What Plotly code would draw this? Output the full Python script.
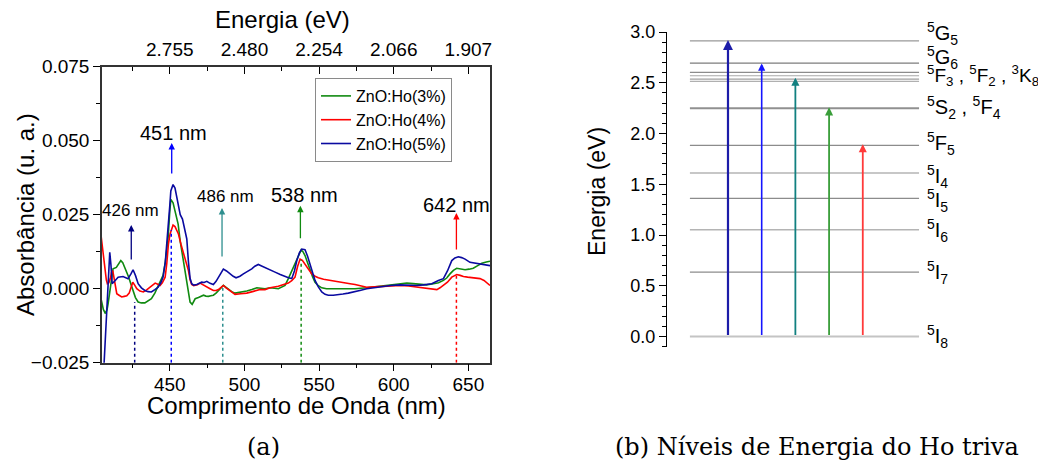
import plotly.graph_objects as go

# ---------------- data: panel (a) ----------------
wl_3 = [404.0, 405.5, 406.9, 408.0, 408.7, 409.8, 410.5, 412.0, 414.2, 415.8, 417.2, 418.5, 419.9, 421.2, 422.5, 424.0,
        425.4, 427.0, 428.8, 431.0, 433.3, 435.5, 437.7, 440.0, 442.2, 444.0, 445.5, 447.0, 448.9, 450.0, 450.7, 452.2,
        453.5, 455.6, 457.0, 458.2, 459.1, 460.2, 461.4, 462.5, 463.6, 465.0, 467.0, 469.2, 470.8, 472.6, 474.2, 475.9,
        477.5, 479.2, 481.0, 482.6, 484.5, 485.9, 487.5, 489.3, 491.5, 493.7, 497.5, 501.6, 505.0, 508.3, 513.8, 517.2,
        522.7, 525.0, 527.2, 529.5, 531.7, 533.5, 535.1, 536.8, 538.0, 539.2, 540.6, 542.3, 544.0, 545.7, 547.3, 549.5,
        551.8, 555.0, 558.5, 567.4, 574.1, 581.9, 587.0, 593.1, 600.0, 608.8, 613.0, 617.6, 622.0, 626.6, 630.0, 633.3,
        635.5, 637.7, 640.0, 642.2, 645.0, 647.8, 650.5, 653.3, 656.0, 659.0, 662.0, 664.5]
ab_3 = [-0.0035, -0.0070, -0.0084, -0.0070, -0.0050, -0.0010, 0.0028, 0.0067, 0.0072, 0.0085, 0.0095, 0.0088, 0.0072,
        0.0055, 0.0039, 0.0015, -0.0006, -0.0030, -0.0045, -0.0048, -0.0048, -0.0042, -0.0034, -0.0015, 0.0011, 0.0030,
        0.0045, 0.0090, 0.0173, 0.0260, 0.0302, 0.0290, 0.0260, 0.0218, 0.0160, 0.0120, 0.0095, 0.0060, 0.0028, -0.0010,
        -0.0045, -0.0053, -0.0034, -0.0030, -0.0026, -0.0022, -0.0025, -0.0026, -0.0024, -0.0022, -0.0015, -0.0006,
        0.0005, 0.0011, 0.0005, -0.0003, -0.0010, -0.0015, -0.0012, -0.0008, -0.0003, 0.0003, 0.0000, 0.0003, 0.0000,
        0.0005, 0.0011, 0.0035, 0.0061, 0.0082, 0.0100, 0.0122, 0.0131, 0.0125, 0.0112, 0.0088, 0.0061, 0.0040, 0.0022,
        0.0010, 0.0003, 0.0000, 0.0000, 0.0000, 0.0000, 0.0003, 0.0006, 0.0011, 0.0015, 0.0019, 0.0017, 0.0014, 0.0013,
        0.0017, 0.0020, 0.0028, 0.0036, 0.0050, 0.0062, 0.0069, 0.0067, 0.0064, 0.0066, 0.0069, 0.0077, 0.0086, 0.0090,
        0.0093]

wl_4 = [404.0, 405.2, 406.5, 407.5, 408.2, 409.2, 410.2, 411.0, 411.8, 412.6, 413.5, 414.5, 416.0, 417.8, 419.5, 421.2,
        422.8, 424.0, 425.2, 426.5, 427.9, 430.0, 432.3, 434.5, 436.8, 438.5, 440.2, 442.0, 443.5, 445.0, 446.9, 448.0,
        449.1, 450.2, 451.3, 452.2, 453.5, 455.8, 457.5, 459.1, 460.8, 462.5, 463.6, 464.7, 466.0, 467.0, 468.5, 470.3,
        472.5, 474.8, 477.0, 479.2, 481.0, 482.6, 484.5, 485.9, 487.5, 489.3, 491.5, 493.7, 497.5, 501.6, 506.0, 510.5,
        513.8, 517.2, 522.7, 526.0, 529.4, 531.7, 533.9, 535.6, 537.3, 538.8, 540.6, 542.8, 545.1, 547.3, 549.5, 553.0,
        558.5, 565.2, 570.8, 574.1, 578.0, 581.9, 587.0, 593.1, 598.0, 604.3, 610.0, 615.4, 620.0, 624.4, 628.9, 631.0,
        633.3, 636.0, 638.9, 642.2, 644.5, 646.7, 649.5, 652.3, 655.0, 657.8, 660.5, 664.5]
ab_4 = [0.0178, 0.0120, 0.0072, 0.0030, 0.0017, 0.0020, 0.0035, 0.0055, 0.0061, 0.0035, 0.0005, -0.0017, -0.0022,
        -0.0028, -0.0026, -0.0024, -0.0015, 0.0005, 0.0022, 0.0012, 0.0000, -0.0008, -0.0011, -0.0004, 0.0005, 0.0013,
        0.0019, 0.0015, 0.0011, 0.0020, 0.0039, 0.0085, 0.0151, 0.0185, 0.0207, 0.0215, 0.0210, 0.0185, 0.0150, 0.0123,
        0.0092, 0.0061, 0.0030, 0.0014, 0.0010, 0.0011, 0.0013, 0.0019, 0.0012, 0.0005, 0.0000, -0.0006, -0.0006,
        -0.0003, 0.0006, 0.0011, 0.0004, -0.0003, -0.0012, -0.0019, -0.0017, -0.0015, -0.0009, -0.0003, -0.0003, 0.0003,
        0.0008, 0.0013, 0.0019, 0.0027, 0.0039, 0.0075, 0.0100, 0.0096, 0.0084, 0.0066, 0.0050, 0.0042, 0.0037, 0.0032,
        0.0028, 0.0022, 0.0017, 0.0014, 0.0009, 0.0005, 0.0006, 0.0008, 0.0010, 0.0011, 0.0009, 0.0005, 0.0002, 0.0000,
        -0.0003, 0.0003, 0.0011, 0.0022, 0.0039, 0.0048, 0.0045, 0.0041, 0.0039, 0.0037, 0.0036, 0.0034, 0.0028, 0.0011]

wl_5 = [405.3, 406.5, 407.8, 409.0, 409.8, 410.6, 411.4, 413.0, 415.4, 418.7, 422.0, 424.0, 425.4, 427.0, 428.8, 431.0,
        433.3, 435.5, 437.7, 440.0, 442.2, 444.0, 445.5, 447.0, 448.9, 450.0, 450.7, 452.2, 453.5, 455.6, 457.0, 458.5,
        460.2, 461.4, 462.5, 463.6, 464.7, 466.0, 468.1, 470.0, 471.4, 473.0, 474.8, 477.0, 479.2, 481.0, 482.6, 484.5,
        485.9, 488.0, 490.4, 492.5, 494.4, 497.0, 499.3, 502.0, 504.9, 507.0, 509.3, 511.5, 513.8, 517.2, 520.5, 524.0,
        527.2, 529.5, 531.7, 533.5, 535.1, 536.8, 538.4, 540.6, 542.3, 544.0, 545.7, 547.3, 549.5, 551.8, 554.0, 556.2,
        559.5, 562.9, 566.0, 569.6, 574.1, 578.0, 581.9, 587.0, 593.1, 598.0, 604.3, 610.0, 615.4, 620.0, 625.5, 629.9,
        633.3, 636.0, 638.9, 641.0, 643.3, 645.5, 647.8, 651.1, 654.5, 657.8, 661.0, 664.5]
ab_5 = [-0.0320, -0.0200, -0.0084, 0.0060, 0.0123, 0.0080, 0.0017, 0.0025, 0.0039, 0.0041, 0.0034, 0.0050, 0.0064,
        0.0045, 0.0017, 0.0003, -0.0006, -0.0010, -0.0011, -0.0003, 0.0005, 0.0020, 0.0039, 0.0090, 0.0196, 0.0280,
        0.0330, 0.0352, 0.0340, 0.0285, 0.0250, 0.0235, 0.0195, 0.0168, 0.0090, 0.0035, 0.0017, 0.0012, 0.0014, 0.0020,
        0.0022, 0.0021, 0.0025, 0.0018, 0.0014, 0.0025, 0.0039, 0.0058, 0.0066, 0.0060, 0.0050, 0.0042, 0.0037, 0.0042,
        0.0050, 0.0058, 0.0067, 0.0076, 0.0082, 0.0077, 0.0071, 0.0064, 0.0056, 0.0048, 0.0041, 0.0037, 0.0034, 0.0060,
        0.0095, 0.0121, 0.0134, 0.0132, 0.0110, 0.0084, 0.0055, 0.0028, 0.0006, -0.0011, -0.0019, -0.0022, -0.0022,
        -0.0021, -0.0018, -0.0015, -0.0011, -0.0005, 0.0000, 0.0004, 0.0008, 0.0011, 0.0013, 0.0012, 0.0011, 0.0013,
        0.0017, 0.0028, 0.0034, 0.0060, 0.0095, 0.0104, 0.0108, 0.0105, 0.0100, 0.0089, 0.0086, 0.0084, 0.0081, 0.0078]

series_names = ["ZnO:Ho(3%)", "ZnO:Ho(4%)", "ZnO:Ho(5%)"]
series_colors = ["#108a10", "#ff0000", "#0a0aa0"]

# peak markers
peak_nm = [426.5, 451.0, 485.5, 538.0, 642.0]
peak_top = [-0.0045, 0.0198, 0.0002, 0.0097, 0.0046]
arrow_nm = [424.2, 451.3, 485.0, 537.5, 642.0]
arrow_base = [0.0094, 0.0384, 0.0104, 0.0165, 0.0127]
arrow_tip = [0.0215, 0.0492, 0.0273, 0.0280, 0.0256]
peak_labels = ["426 nm", "451 nm", "486 nm", "538 nm", "642 nm"]
peak_colors = ["#000080", "#0000ff", "#2e8f8f", "#108a10", "#ff0000"]
label_nm = [424.0, 452.5, 487.0, 540.5, 642.0]
label_y = [0.0265, 0.0525, 0.0313, 0.0316, 0.0282]
label_size = [17, 20, 17, 20, 20]

bottom_ticks = [450, 500, 550, 600, 650]
top_ticks = ["2.755", "2.480", "2.254", "2.066", "1.907"]

# ---------------- data: panel (b) ----------------
level_E = [0.0, 0.634, 1.053, 1.362, 1.611, 1.884, 2.245, 2.254, 2.514, 2.536, 2.569, 2.602, 2.694, 2.913]
level_col = ["#c4c4c4", "#8c8c8c", "#b4b4b4", "#8c8c8c", "#b4b4b4", "#8c8c8c", "#909090", "#909090",
             "#b0b0b0", "#a0a0a0", "#a8a8a8", "#8c8c8c", "#7c7c7c", "#999999"]
level_w = [2.0, 1.2, 1.5, 1.2, 1.5, 1.2, 1.2, 1.2, 1.2, 1.2, 1.2, 1.2, 1.2, 1.2]

level_labels = ["<sup>5</sup>G<sub>5</sub>", "<sup>5</sup>G<sub>6</sub>",
                "<sup>5</sup>F<sub>3</sub> , <sup>5</sup>F<sub>2</sub> , <sup>3</sup>K<sub>8</sub>",
                "<sup>5</sup>S<sub>2</sub> , <sup>5</sup>F<sub>4</sub>", "<sup>5</sup>F<sub>5</sub>",
                "<sup>5</sup>I<sub>4</sub>", "<sup>5</sup>I<sub>5</sub>", "<sup>5</sup>I<sub>6</sub>",
                "<sup>5</sup>I<sub>7</sub>", "<sup>5</sup>I<sub>8</sub>"]
level_label_y = [2.988, 2.753, 2.573, 2.261, 1.897, 1.572, 1.343, 1.048, 0.627, 0.002]
level_label_size = [20, 20, 19, 20, 20, 20, 20, 20, 20, 20]

trans_pos = [1, 2, 3, 4, 5]
trans_E = [2.92, 2.69, 2.55, 2.258, 1.895]
trans_col = ["#1c1ca8", "#1515ff", "#118080", "#3a9e3a", "#ff3a3a"]
trans_w = [2.2, 1.6, 1.8, 1.8, 1.8]

FONT = "Liberation Sans, Arial, sans-serif"
SERIF = "DejaVu Serif, serif"
W, H = 1038, 471

fig = go.Figure()

for wl, ab, nm, col in zip([wl_3, wl_4, wl_5], [ab_3, ab_4, ab_5], series_names, series_colors):
    fig.add_trace(go.Scatter(x=wl, y=ab, mode="lines", name=nm, line=dict(color=col, width=1.6),
                             xaxis="x", yaxis="y"))

fig.add_trace(go.Scatter(x=[bottom_ticks[0]], y=[0], mode="markers", marker=dict(opacity=0),
                         showlegend=False, hoverinfo="skip", xaxis="x2", yaxis="y"))
fig.add_trace(go.Scatter(x=trans_pos, y=[0] * len(trans_pos), mode="markers", marker=dict(opacity=0),
                         showlegend=False, hoverinfo="skip", xaxis="x3", yaxis="y3"))

shapes = []
annotations = []

for x, top, col in zip(peak_nm, peak_top, peak_colors):
    shapes.append(dict(type="line", xref="x", yref="y", x0=x, x1=x, y0=-0.025, y1=top,
                       line=dict(color=col, width=1.5, dash="dot")))
for x, b, t, col in zip(arrow_nm, arrow_base, arrow_tip, peak_colors):
    annotations.append(dict(xref="x", yref="y", axref="x", ayref="y", x=x, y=t, ax=x, ay=b, text="",
                            showarrow=True, arrowhead=2, arrowsize=1.0, arrowwidth=1.3, arrowcolor=col,
                            standoff=0, startstandoff=0))
for x, y, txt, s in zip(label_nm, label_y, peak_labels, label_size):
    annotations.append(dict(xref="x", yref="y", x=x, y=y, text=txt, showarrow=False,
                            font=dict(family=FONT, size=s, color="black")))

for E, c, w in zip(level_E, level_col, level_w):
    shapes.append(dict(type="line", xref="x3", yref="y3", x0=-0.13, x1=6.67, y0=E, y1=E,
                       line=dict(color=c, width=w), layer="below"))
for x, E, c, w in zip(trans_pos, trans_E, trans_col, trans_w):
    annotations.append(dict(xref="x3", yref="y3", axref="x3", ayref="y3", x=x, y=E, ax=x, ay=level_E[0],
                            text="", showarrow=True, arrowhead=2, arrowsize=0.9, arrowwidth=w,
                            arrowcolor=c, standoff=0, startstandoff=0))
for txt, y, s in zip(level_labels, level_label_y, level_label_size):
    annotations.append(dict(xref="x3", yref="y3", x=6.85, y=y, text=txt, showarrow=False,
                            xanchor="left", yanchor="middle", font=dict(family=FONT, size=s, color="black")))

annotations += [
    dict(xref="paper", yref="paper", x=296 / W, y=1 - 405 / H, text="Comprimento de Onda (nm)",
         showarrow=False, font=dict(family=FONT, size=24, color="black"), xanchor="center", yanchor="middle"),
    dict(xref="paper", yref="paper", x=282 / W, y=1 - 20 / H, text="Energia (eV)",
         showarrow=False, font=dict(family=FONT, size=24, color="black"), xanchor="center", yanchor="middle"),
    dict(xref="paper", yref="paper", x=25 / W, y=1 - 215 / H, text="Absorbância (u. a.)", textangle=-90,
         showarrow=False, font=dict(family=FONT, size=24, color="black"), xanchor="center", yanchor="middle"),
    dict(xref="paper", yref="paper", x=597 / W, y=1 - 192 / H, text="Energia (eV)", textangle=-90,
         showarrow=False, font=dict(family=FONT, size=23, color="black"), xanchor="center", yanchor="middle"),
    dict(xref="paper", yref="paper", x=263 / W, y=1 - 447 / H, text="(a)",
         showarrow=False, font=dict(family=SERIF, size=24, color="black"), xanchor="center", yanchor="middle"),
    dict(xref="paper", yref="paper", x=613 / W, y=1 - 447 / H, text="(b) Níveis de Energia do Ho triva",
         showarrow=False, font=dict(family=SERIF, size=24, color="black"), xanchor="left", yanchor="middle"),
]

xr = [404.6, 664.5]
fig.update_layout(
    width=W, height=H, margin=dict(l=0, r=0, t=0, b=0, autoexpand=False),
    paper_bgcolor="white", plot_bgcolor="white",
    font=dict(family=FONT, size=19, color="black"),
    showlegend=True,
    legend=dict(x=315 / W, y=1 - 78 / H, xanchor="left", yanchor="top", bgcolor="white",
                bordercolor="#8a8a8a", borderwidth=1, font=dict(family=FONT, size=16),
                tracegroupgap=0, itemwidth=30),
    xaxis=dict(domain=[102 / W, 490 / W], range=xr, tickmode="array", tickvals=bottom_ticks,
               ticks="outside", ticklen=7, tickwidth=1.2, tickcolor="black",
               minor=dict(ticks="outside", ticklen=4, dtick=25, tick0=425, tickcolor="black"),
               showline=True, linecolor="#333333", linewidth=1.5, mirror=True, showgrid=False,
               zeroline=False, tickfont=dict(size=19), anchor="y", automargin=False,
               ticklabelstandoff=-3),
    xaxis2=dict(overlaying="x", side="top", range=xr, tickmode="array", tickvals=bottom_ticks,
                ticktext=top_ticks, ticks="inside", ticklen=7, tickwidth=1.2, tickcolor="black",
                minor=dict(ticks="inside", ticklen=4, dtick=25, tick0=425, tickcolor="black"),
                showline=False, showgrid=False, zeroline=False, tickfont=dict(size=19), anchor="y",
                automargin=False, ticklabelstandoff=6),
    yaxis=dict(domain=[1 - 362.7 / H, 1 - 66.7 / H], range=[-0.025, 0.075], tickmode="array",
               tickvals=[-0.025, 0.0, 0.025, 0.050, 0.075], tickformat=".3f",
               ticks="outside", ticklen=7, tickwidth=1.2, tickcolor="black",
               minor=dict(ticks="outside", ticklen=4, dtick=0.0125, tick0=-0.0125, tickcolor="black"),
               showline=True, linecolor="#333333", linewidth=1.5, mirror=True, showgrid=False,
               zeroline=False, tickfont=dict(size=19), anchor="x", automargin=False),
    xaxis3=dict(domain=[667 / W, 1.0], range=[-0.81, 10.2], visible=False, anchor="y3", automargin=False),
    yaxis3=dict(domain=[1 - 346.7 / H, 1 - 32 / H], range=[-0.1, 3.0], tickmode="array",
                tickvals=[0, 0.5, 1.0, 1.5, 2.0, 2.5, 3.0], tickformat=".1f",
                ticks="outside", ticklen=7, tickwidth=1.2, tickcolor="black",
                minor=dict(ticks="outside", ticklen=4, dtick=0.1, tick0=0, tickcolor="black"),
                showline=True, linecolor="black", linewidth=1.2, showgrid=False, zeroline=False,
                tickfont=dict(size=18), anchor="x3", automargin=False),
    shapes=shapes, annotations=annotations,
)

fig.write_html("out.html")
